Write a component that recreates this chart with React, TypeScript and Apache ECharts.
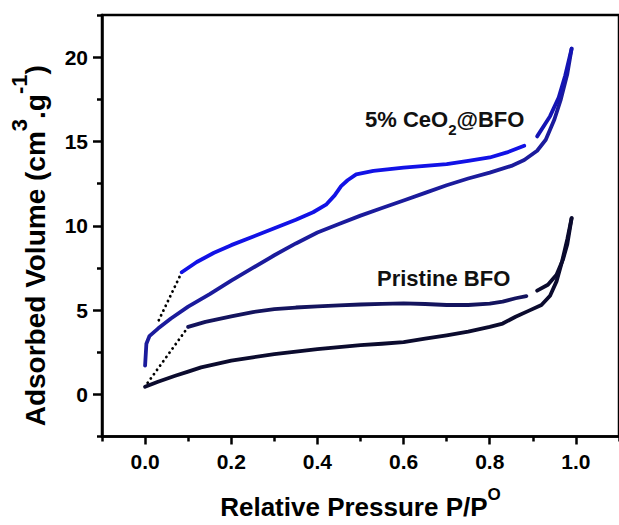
import React, { useEffect, useRef } from "react";
import * as echarts from "echarts";

// Tick values
const xMajorTicks = [0, 0.2, 0.4, 0.6, 0.8, 1.0];
const xMinorTicks = [-0.1, 0.1, 0.3, 0.5, 0.7, 0.9, 1.1];
const yMajorTicks = [0, 5, 10, 15, 20];
const yMinorTicks = [-2.5, 2.5, 7.5, 12.5, 17.5, 22.5];

// 5% CeO2@BFO adsorption branch
const ceo2Adsorption = [
  [0, 1.7], [0.003, 3.0], [0.01, 3.45], [0.03, 3.9], [0.06, 4.5], [0.1, 5.2],
  [0.15, 5.95], [0.2, 6.75], [0.25, 7.5], [0.3, 8.25], [0.35, 8.95], [0.4, 9.6],
  [0.45, 10.1], [0.5, 10.6], [0.55, 11.05], [0.6, 11.5], [0.65, 11.95], [0.7, 12.4],
  [0.75, 12.8], [0.8, 13.15], [0.85, 13.55], [0.88, 13.9], [0.91, 14.45], [0.93, 15.1],
  [0.95, 16.3], [0.965, 17.5], [0.98, 19.0], [0.99, 20.5],
];
// 5% CeO2@BFO desorption branch (low/mid pressure part)
const ceo2Desorption = [
  [0.085, 7.24], [0.12, 7.85], [0.16, 8.4], [0.2, 8.85], [0.25, 9.35], [0.3, 9.85],
  [0.35, 10.35], [0.39, 10.8], [0.42, 11.25], [0.44, 11.8], [0.455, 12.35], [0.47, 12.7],
  [0.49, 13.05], [0.53, 13.25], [0.6, 13.45], [0.65, 13.55], [0.7, 13.65], [0.75, 13.85],
  [0.8, 14.05], [0.84, 14.35], [0.88, 14.75],
];
// 5% CeO2@BFO desorption branch (high pressure part)
const ceo2DesorptionHigh = [
  [0.91, 15.3], [0.94, 16.5], [0.96, 17.6], [0.975, 18.9], [0.99, 20.5],
];
// Pristine BFO adsorption branch
const pristineAdsorption = [
  [0, 0.45], [0.03, 0.75], [0.07, 1.1], [0.1, 1.35], [0.13, 1.6], [0.2, 2.0],
  [0.25, 2.2], [0.3, 2.38], [0.35, 2.53], [0.4, 2.68], [0.45, 2.8], [0.5, 2.92],
  [0.55, 3.0], [0.6, 3.1], [0.65, 3.3], [0.7, 3.5], [0.75, 3.72], [0.8, 4.0],
  [0.83, 4.2], [0.86, 4.6], [0.89, 4.95], [0.92, 5.3], [0.94, 5.85], [0.955, 6.7],
  [0.968, 7.9], [0.98, 9.2], [0.99, 10.45],
];
// Pristine BFO desorption branch
const pristineDesorption = [
  [0.1, 4.0], [0.14, 4.3], [0.2, 4.62], [0.25, 4.88], [0.3, 5.05], [0.35, 5.15],
  [0.4, 5.22], [0.45, 5.28], [0.5, 5.33], [0.55, 5.37], [0.6, 5.4], [0.65, 5.36],
  [0.7, 5.3], [0.75, 5.3], [0.8, 5.38], [0.83, 5.5], [0.86, 5.7], [0.885, 5.83],
];
const pristineDesorptionHigh = [
  [0.91, 6.15], [0.935, 6.5], [0.955, 7.1], [0.97, 8.0], [0.98, 8.9], [0.99, 10.45],
];
// Dotted extrapolations
const ceo2Dotted = [[0.085, 7.24], [0.03, 4.3]];
const pristineDotted = [[0.1, 4.0], [0.005, 0.65]];

const FONT = "'Liberation Sans', Arial, Helvetica, sans-serif";

export default function App() {
  const ref = useRef<HTMLDivElement>(null);
  useEffect(() => {
    if (!ref.current) return;
    const chart = echarts.init(ref.current, undefined, { renderer: "svg" });
    const axisLine = { show: true, onZero: false, lineStyle: { color: "#000", width: 2.5 } };
    const tickStyle = { color: "#000", width: 2.5 };
    const lineSeries = (data: number[][], color: string, width = 3.8) => ({
      type: "line",
      data,
      showSymbol: false,
      symbol: "none",
      smooth: false,
      lineStyle: { color, width, cap: "round", join: "round" },
      z: 3,
    });
    const dotted = (data: number[][]) => ({
      type: "line",
      data,
      showSymbol: false,
      symbol: "none",
      lineStyle: { color: "#000", width: 2.8, type: [0.1, 5.2], cap: "round" },
      z: 2,
    });
    chart.setOption({
      animation: false,
      grid: {
        left: 100, top: 15, right: -3, bottom: 78,
        show: true, borderColor: "#000", borderWidth: 2.5, containLabel: false,
      },
      xAxis: [
        {
          type: "value", min: -0.1, max: 1.1, position: "bottom",
          axisLine,
          axisTick: { show: true, customValues: xMajorTicks, length: 8, lineStyle: tickStyle },
          axisLabel: {
            customValues: xMajorTicks,
            formatter: (v: number) => v.toFixed(1),
            fontSize: 21, fontWeight: "bold", color: "#000", fontFamily: FONT, margin: 14,
          },
          splitLine: { show: false },
          name: "Relative Pressure P/P{sup|O}",
          nameLocation: "middle",
          nameGap: 49,
          nameTextStyle: {
            fontSize: 26, fontWeight: "bold", color: "#000", fontFamily: FONT,
            rich: {
              sup: { fontSize: 17, fontWeight: "bold", color: "#000", fontFamily: FONT, padding: [0, 0, 26, 0] },
            },
          },
        },
        {
          type: "value", min: -0.1, max: 1.1, position: "bottom",
          axisLine: { show: false, onZero: false },
          axisTick: { show: true, customValues: xMinorTicks, length: 5, lineStyle: tickStyle },
          axisLabel: { show: false },
          splitLine: { show: false },
        },
      ],
      yAxis: [
        {
          type: "value", min: -2.5, max: 22.5, position: "left",
          axisLine,
          axisTick: { show: true, customValues: yMajorTicks, length: 9, lineStyle: tickStyle },
          axisLabel: {
            customValues: yMajorTicks,
            fontSize: 21, fontWeight: "bold", color: "#000", fontFamily: FONT, margin: 14,
          },
          splitLine: { show: false },
          name: "Adsorbed Volume (cm{sup|3}.g{sup|-1})",
          nameLocation: "middle",
          nameRotate: 90,
          nameGap: 40,
          nameTextStyle: {
            fontSize: 28, fontWeight: "bold", color: "#000", fontFamily: FONT,
            padding: [0, 40, 0, 0],
            rich: {
              sup: { fontSize: 22, fontWeight: "bold", color: "#000", fontFamily: FONT, padding: [0, 0, 32, 0] },
            },
          },
        },
        {
          type: "value", min: -2.5, max: 22.5, position: "left",
          axisLine: { show: false, onZero: false },
          axisTick: { show: true, customValues: yMinorTicks, length: 5, lineStyle: tickStyle },
          axisLabel: { show: false },
          splitLine: { show: false },
        },
      ],
      graphic: [
        {
          type: "text", x: 365, y: 119, z: 10,
          style: {
            text: "5% CeO{sub|2}@BFO",
            fontSize: 22, fontWeight: "bold", fontFamily: FONT, fill: "#111",
            align: "left", verticalAlign: "middle",
            rich: {
              sub: { fontSize: 15, fontWeight: "bold", fontFamily: FONT, fill: "#111", padding: [21, 0, 0, 0] },
            },
          },
        },
        {
          type: "text", x: 377, y: 278, z: 10,
          style: {
            text: "Pristine BFO",
            fontSize: 22, fontWeight: "bold", fontFamily: FONT, fill: "#111",
            align: "left", verticalAlign: "middle",
          },
        },
      ],
      series: [
        dotted(ceo2Dotted),
        dotted(pristineDotted),
        lineSeries(pristineAdsorption, "#0b0b2e"),
        lineSeries(pristineDesorption, "#14145e"),
        lineSeries(pristineDesorptionHigh, "#0b0b2e"),
        lineSeries(ceo2Adsorption, "#1b1b9c"),
        lineSeries(ceo2Desorption, "#1212e6"),
        lineSeries(ceo2DesorptionHigh, "#1414b4"),
      ],
    });
    return () => chart.dispose();
  }, []);
  return (
    <div
      ref={ref}
      style={{ position: "absolute", left: 0, top: 0, width: 619, height: 525, background: "#fff" }}
    />
  );
}
